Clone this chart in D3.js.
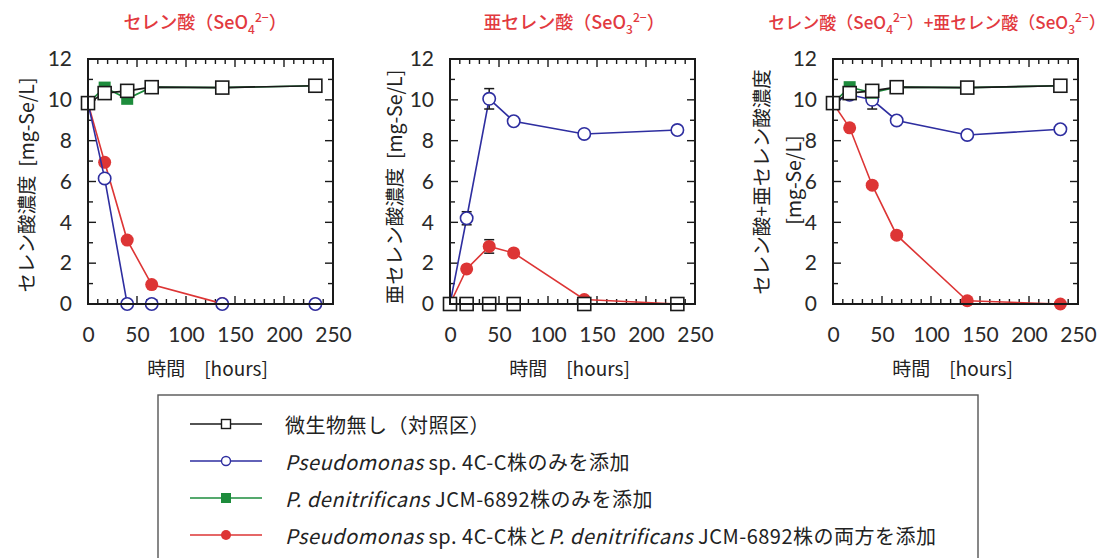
<!DOCTYPE html>
<html><head><meta charset="utf-8">
<script src="https://cdn.jsdelivr.net/npm/d3@7"></script>
<style>body{margin:0;background:#fff}svg{display:block}</style>
</head><body><svg id="c" width="1111" height="558"></svg>
<script>
// ---- data ----
const times = [0, 17, 40, 65, 137, 232];
const xTicks = [0, 50, 100, 150, 200, 250];
const yTicks = [0, 2, 4, 6, 8, 10, 12];
const seriesNames = ["微生物無し（対照区）", "Pseudomonas sp. 4C-C株のみを添加", "P. denitrificans JCM-6892株のみを添加", "Pseudomonas sp. 4C-C株とP. denitrificans JCM-6892株の両方を添加"];
// panel 1: selenate
const seo4Control = [9.84, 10.33, 10.44, 10.62, 10.6, 10.69];
const seo4Pseudo  = [9.84, 6.15, 0.0, 0.0, 0.0, 0.0];
const seo4Denit   = [9.84, 10.6, 10.05, 10.62, 10.6, 10.69];
const seo4Both    = [9.84, 6.94, 3.13, 0.95, 0.02, 0.0];
// panel 2: selenite
const seo3Control = [0, 0, 0, 0, 0, 0];
const seo3Pseudo  = [0, 4.2, 10.05, 8.95, 8.33, 8.52];
const seo3PseudoErr = [0, 0.32, 0.5, 0, 0, 0];
const seo3Denit   = [0, 0, 0, 0, 0, 0];
const seo3Both    = [0, 1.72, 2.82, 2.5, 0.22, 0.0];
const seo3BothErr = [0, 0, 0.33, 0, 0, 0];
// panel 3: total
const totControl = [9.84, 10.33, 10.44, 10.62, 10.6, 10.69];
const totPseudo  = [9.84, 10.25, 10.0, 8.99, 8.28, 8.56];
const totPseudoErr = [0, 0, 0.45, 0, 0, 0];
const totDenit   = [9.84, 10.62, 10.35, 10.62, 10.6, 10.69];
const totBoth    = [9.84, 8.63, 5.82, 3.37, 0.16, 0.0];

const C = {black:"#1a1a1a", blue:"#2e2ea0", green:"#1d8c3c", red:"#dd3535", title:"#e23a3f"};
const svg = d3.select("#c");
svg.append("rect").attr("width",1111).attr("height",558).attr("fill","#fff");

const panels = [
  {left:88, title:[["セレン酸（SeO",0],["4",1],["2−",2],["）",3]], tx:205, tsize:18,
   ylab:[{t:"セレン酸濃度  [mg-Se/L]", x:25, y:185}],
   data:{control:seo4Control, pseudo:seo4Pseudo, denit:seo4Denit, both:seo4Both}, err:{}},
  {left:450, title:[["亜セレン酸（SeO",0],["3",1],["2−",2],["）",3]], tx:574, tsize:18,
   ylab:[{t:"亜セレン酸濃度  [mg-Se/L]", x:393, y:187}],
   data:{control:seo3Control, pseudo:seo3Pseudo, denit:seo3Denit, both:seo3Both}, err:{pseudo:seo3PseudoErr, both:seo3BothErr}},
  {left:833, title:[["セレン酸（SeO",0],["4",1],["2−",2],["）+亜セレン酸（SeO",3],["3",1],["2−",2],["）",3]], tx:937, tsize:17,
   ylab:[{t:"セレン酸+亜セレン酸濃度", x:760, y:182},{t:"[mg-Se/L]", x:792, y:180}],
   data:{control:totControl, pseudo:totPseudo, denit:totDenit, both:totBoth}, err:{pseudo:totPseudoErr}}
];
const plotTop = 59, W = 245, H = 245;
const fontNum = "Lato, 'DejaVu Sans', sans-serif";
const fontJP = "'Noto Sans CJK JP', sans-serif";

function titleText(g, parts, x, y, fs){
  const t = g.append("text").attr("x",x).attr("y",y).attr("text-anchor","middle")
    .attr("fill",C.title).attr("font-family",fontJP).attr("font-size",fs).attr("font-weight",500);
  parts.forEach(([s,k])=>{
    const ts = t.append("tspan").text(s);
    if(k===1){ts.attr("font-size",12).attr("dy",5);}
    else if(k===2){ts.attr("font-size",12).attr("dy",-12);}
    else if(k===3){ts.attr("dy",7);}
  });
}

panels.forEach((p,i)=>{
  const x = d3.scaleLinear().domain([0,250]).range([p.left, p.left+W]);
  const y = d3.scaleLinear().domain([0,12]).range([plotTop+H, plotTop]);
  const g = svg.append("g");

  const xMinor = d3.range(0,251,10), yMinor = d3.range(0,13,1);
  const tk = g.append("g").attr("stroke",C.black).attr("stroke-width",1.4);
  xMinor.forEach(v=>{
    const L = v%50===0?8:5;
    tk.append("line").attr("x1",x(v)).attr("x2",x(v)).attr("y1",plotTop+H).attr("y2",plotTop+H-L);
    tk.append("line").attr("x1",x(v)).attr("x2",x(v)).attr("y1",plotTop).attr("y2",plotTop+L);
  });
  yMinor.forEach(v=>{
    const L = v%2===0?8:5;
    tk.append("line").attr("y1",y(v)).attr("y2",y(v)).attr("x1",p.left).attr("x2",p.left+L);
    tk.append("line").attr("y1",y(v)).attr("y2",y(v)).attr("x1",p.left+W).attr("x2",p.left+W-L);
  });

  const ax = g.append("g").attr("transform",`translate(0,${plotTop+H})`)
    .call(d3.axisBottom(x).tickValues(xTicks).tickSize(0).tickPadding(23).tickFormat(d3.format("d")));
  const ay = g.append("g").attr("transform",`translate(${p.left},0)`)
    .call(d3.axisLeft(y).tickValues(yTicks).tickSize(0).tickPadding(16).tickFormat(d3.format("d")));
  [ax,ay].forEach(a=>{
    a.select(".domain").remove();
    a.selectAll("text").attr("font-family",fontNum).attr("font-size",21).attr("fill","#2a2a2a");
  });

  const line = d3.line().x((d,j)=>x(times[j])).y(d=>y(d));
  const order = [["both",C.red,"fc"],["pseudo",C.blue,"oc"],["denit",C.green,"fs"],["control",C.black,"os"]];
  order.forEach(([k,col,m])=>{
    const vals = p.data[k];
    g.append("path").datum(vals).attr("d",line).attr("fill","none").attr("stroke",col).attr("stroke-width",1.6);
    const e = p.err[k];
    if(e){
      vals.forEach((v,j)=>{ if(e[j]>0){
        const xx = x(times[j]);
        g.append("line").attr("x1",xx).attr("x2",xx).attr("y1",y(v-e[j])).attr("y2",y(v+e[j])).attr("stroke",C.black).attr("stroke-width",1.5);
        [v-e[j],v+e[j]].forEach(b=>g.append("line").attr("x1",xx-5).attr("x2",xx+5).attr("y1",y(b)).attr("y2",y(b)).attr("stroke",C.black).attr("stroke-width",1.5));
      }});
    }
    vals.forEach((v,j)=>{
      const cx = x(times[j]), cy = y(v);
      if(m==="fc") g.append("circle").attr("cx",cx).attr("cy",cy).attr("r",6.5).attr("fill",col);
      else if(m==="oc") g.append("circle").attr("cx",cx).attr("cy",cy).attr("r",6.2).attr("fill","#fff").attr("stroke",col).attr("stroke-width",1.6);
      else if(m==="fs") g.append("rect").attr("x",cx-6).attr("y",cy-6).attr("width",12).attr("height",12).attr("fill",col);
      else g.append("rect").attr("x",cx-6.5).attr("y",cy-6.5).attr("width",13).attr("height",13).attr("fill","#fff").attr("stroke",col).attr("stroke-width",1.6);
    });
  });

  g.append("rect").attr("x",p.left).attr("y",plotTop).attr("width",W).attr("height",H)
    .attr("fill","none").attr("stroke",C.black).attr("stroke-width",2);

  titleText(g, p.title, p.tx, 29, p.tsize);
  g.append("text").attr("x",p.left+W/2-3).attr("y",376).attr("text-anchor","middle")
    .attr("font-family",fontJP).attr("font-size",19).attr("fill","#222").text("時間　[hours]");
  p.ylab.forEach(l=>{
    g.append("text").attr("transform",`translate(${l.x},${l.y}) rotate(-90)`).attr("text-anchor","middle")
      .attr("dominant-baseline","central").attr("font-family",fontJP).attr("font-size",19.5).attr("fill","#222")
      .attr("xml:space","preserve").text(l.t);
  });
});

const lg = svg.append("g");
lg.append("rect").attr("x",158).attr("y",395).attr("width",820).attr("height",180).attr("fill","#fff").attr("stroke","#555").attr("stroke-width",1.4);
const legItems = [
  {col:C.black, m:"os", parts:[[seriesNames[0],0]]},
  {col:C.blue, m:"oc", parts:[["Pseudomonas",1],[" sp. 4C-C株のみを添加",0]]},
  {col:C.green, m:"fs", parts:[["P. denitrificans",1],[" JCM-6892株のみを添加",0]]},
  {col:C.red, m:"fc", parts:[["Pseudomonas",1],[" sp. 4C-C株と",0],["P. denitrificans",1],[" JCM-6892株の両方を添加",0]]}
];
const rowY = d3.scalePoint().domain(d3.range(legItems.length)).range([424,535]);
legItems.forEach((it,i)=>{
  const yy = rowY(i);
  lg.append("line").attr("x1",190).attr("x2",262).attr("y1",yy).attr("y2",yy).attr("stroke",it.col).attr("stroke-width",1.5);
  const cx=226;
  if(it.m==="os") lg.append("rect").attr("x",cx-4.5).attr("y",yy-4.5).attr("width",9).attr("height",9).attr("fill","#fff").attr("stroke",it.col).attr("stroke-width",1.4);
  else if(it.m==="oc") lg.append("circle").attr("cx",cx).attr("cy",yy).attr("r",4.5).attr("fill","#fff").attr("stroke",it.col).attr("stroke-width",1.4);
  else if(it.m==="fs") lg.append("rect").attr("x",cx-5).attr("y",yy-5).attr("width",10).attr("height",10).attr("fill",it.col);
  else lg.append("circle").attr("cx",cx).attr("cy",yy).attr("r",5).attr("fill",it.col);
  const t = lg.append("text").attr("x",285).attr("y",yy).attr("dominant-baseline","central")
    .attr("font-family",fontJP).attr("font-size",20).attr("letter-spacing",0.5).attr("fill","#222").attr("xml:space","preserve");
  it.parts.forEach(([s,k])=>{const ts=t.append("tspan").text(s); if(k) ts.attr("font-style","italic");});
});
</script></body></html>
